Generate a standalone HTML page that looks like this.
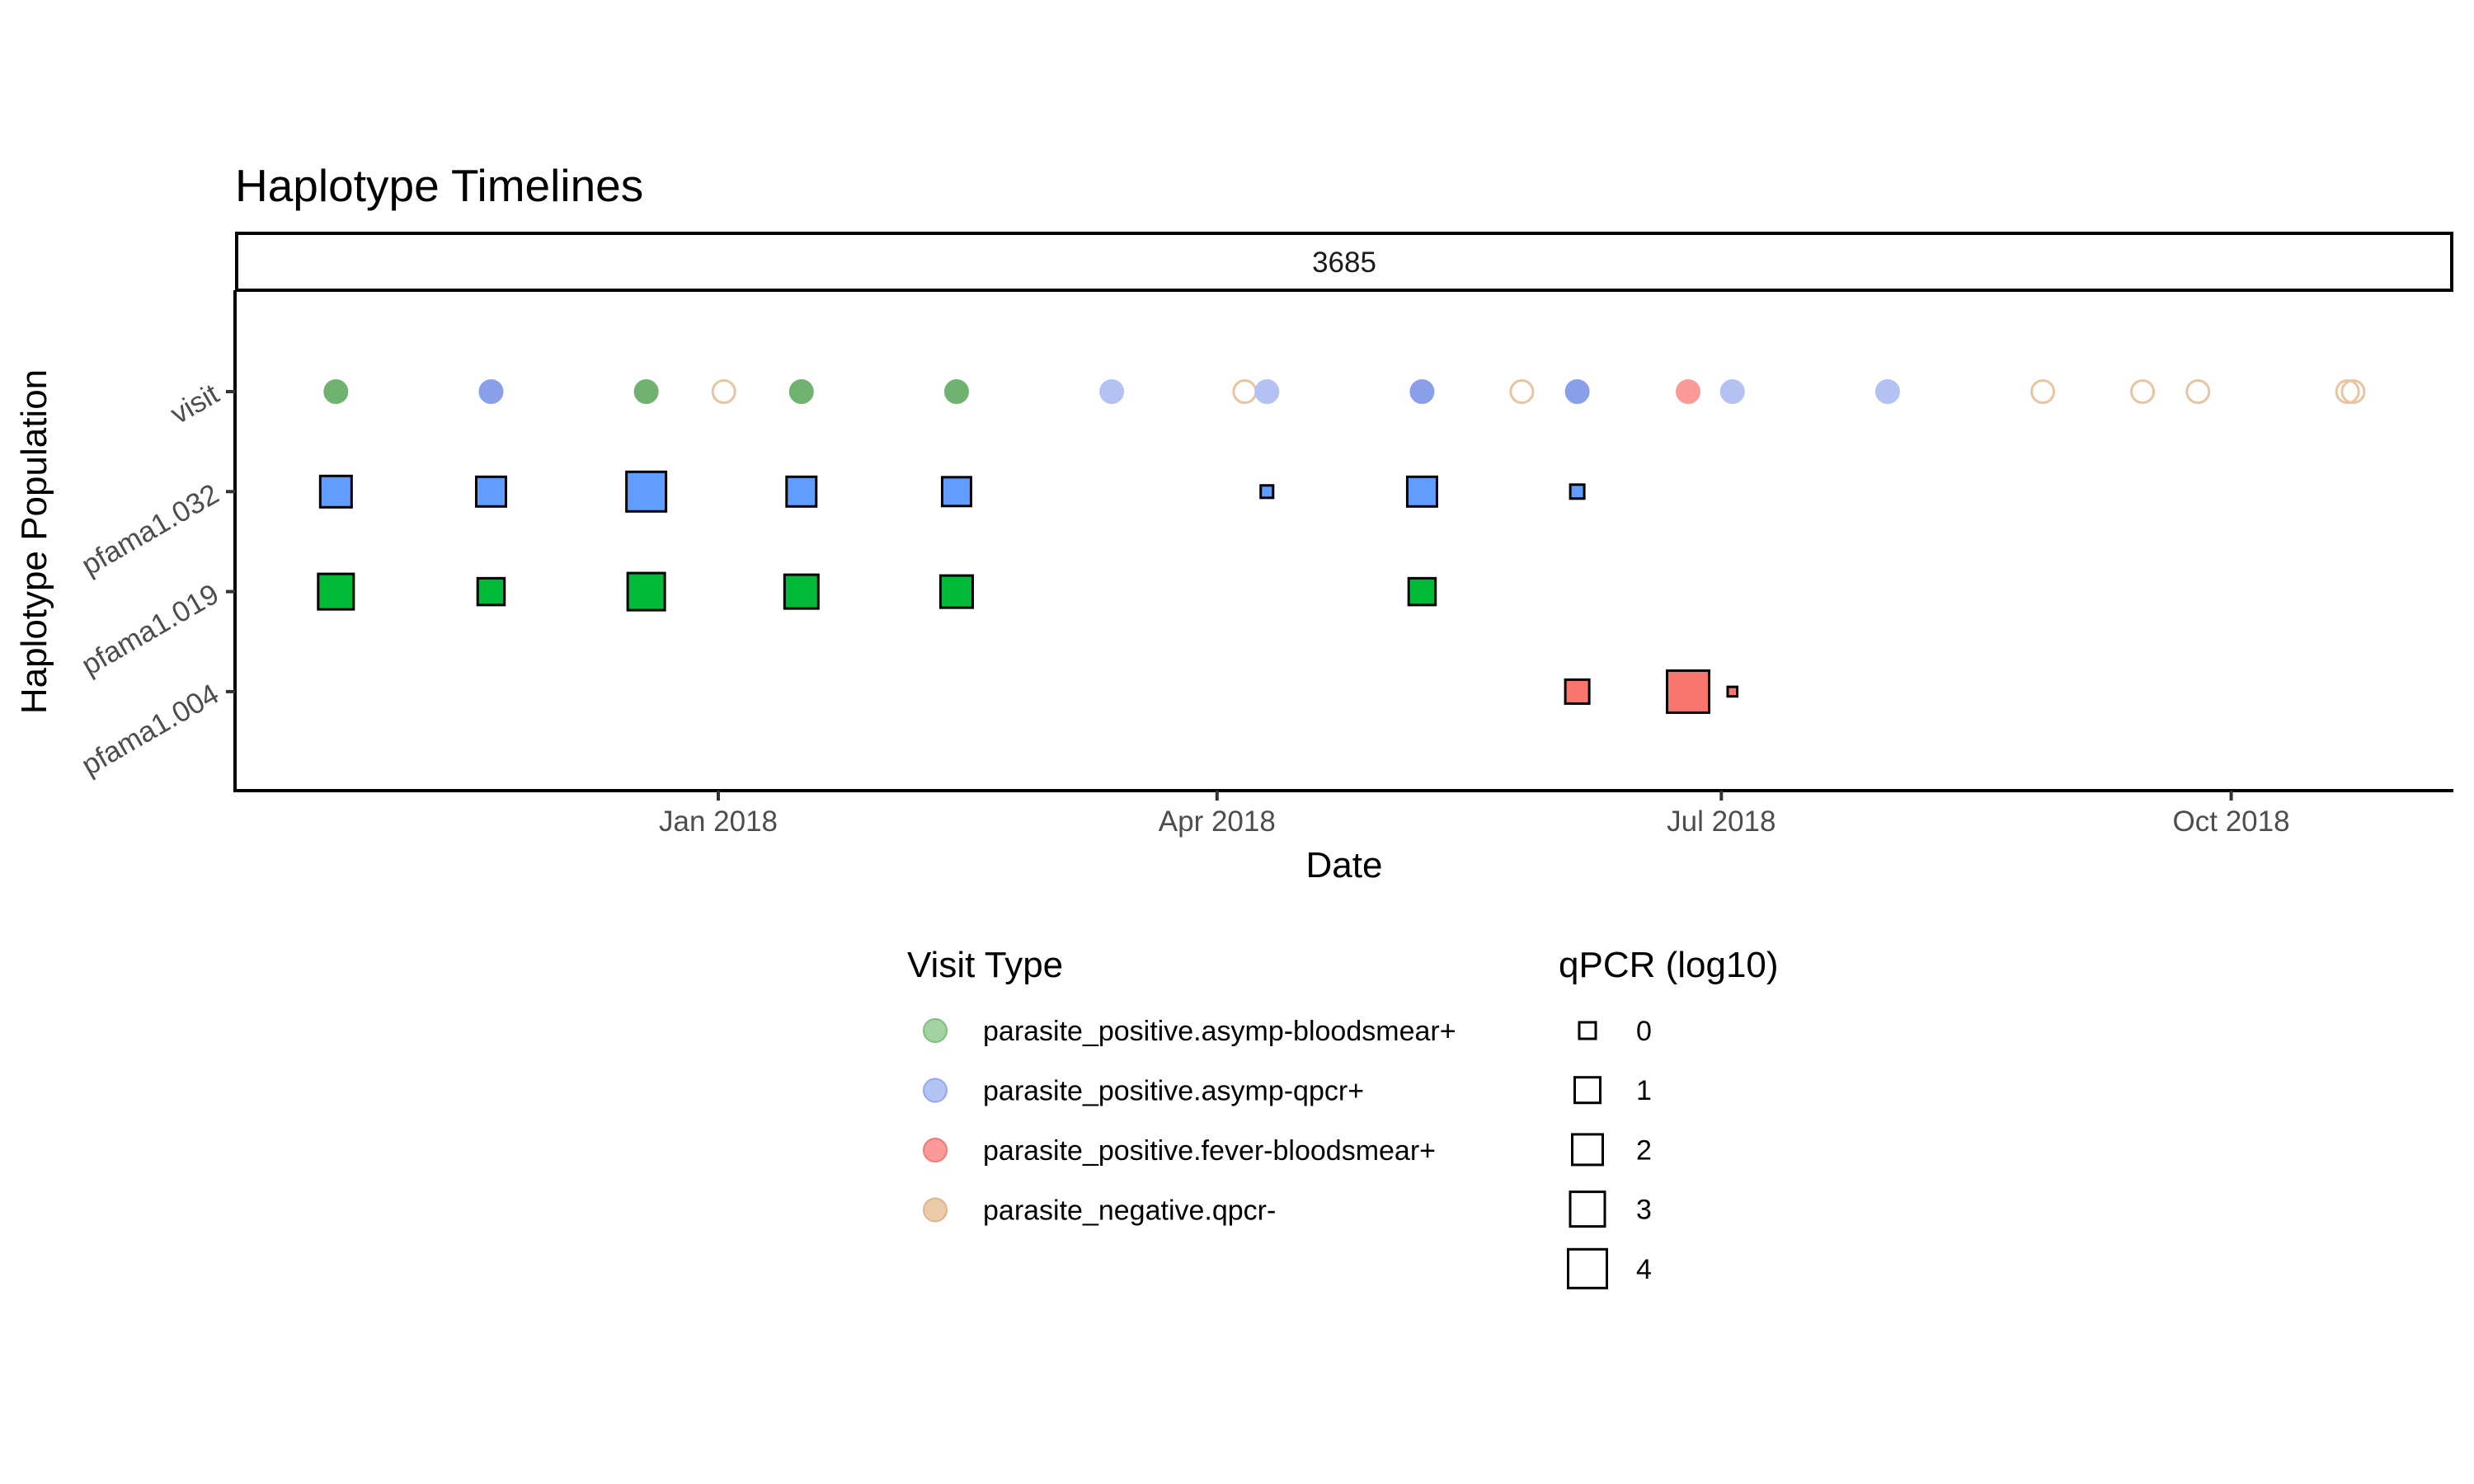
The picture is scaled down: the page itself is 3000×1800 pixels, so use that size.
<!DOCTYPE html>
<html><head><meta charset="utf-8"><style>
html,body{margin:0;padding:0;background:#fff;}
svg{display:block;font-family:"Liberation Sans",sans-serif;}
</style></head><body>
<svg id="chart" width="3000" height="1800" viewBox="0 0 3000 1800" xmlns="http://www.w3.org/2000/svg">
<text x="285" y="244" font-size="55" fill="#000">Haplotype Timelines</text>
<rect x="287" y="283" width="2686" height="69" fill="#fff" stroke="#000" stroke-width="4"/>
<text x="1630" y="330" font-size="35" text-anchor="middle" fill="#1a1a1a">3685</text>
<g id="marks"></g>
<line x1="285" y1="352" x2="285" y2="961" stroke="#000" stroke-width="4"/>
<line x1="283" y1="959" x2="2975" y2="959" stroke="#000" stroke-width="4"/>
<g id="yaxis"></g>
<g id="xaxis"></g>
<text x="1630" y="1064" font-size="44" text-anchor="middle" fill="#000">Date</text>
<text transform="translate(56,657) rotate(-90)" font-size="44" text-anchor="middle" fill="#000">Haplotype Population</text>
<g>
<text x="1100" y="1185" font-size="44" fill="#000">Visit Type</text>
<g id="legend1"></g>
</g>
<g>
<text x="1890" y="1185" font-size="44" fill="#000">qPCR (log10)</text>
<g id="legend2"></g>
</g>
</svg>
<script>
const rows = ["visit","pfama1.032","pfama1.019","pfama1.004"];
const xTickLabels = ["Jan 2018","Apr 2018","Jul 2018","Oct 2018"];
const xTickDates = ["2018-01-01","2018-04-01","2018-07-01","2018-10-01"];
const visitDates = ["2017-10-24","2017-11-21","2017-12-19","2018-01-02","2018-01-16","2018-02-13","2018-03-13","2018-04-06","2018-04-10","2018-05-08","2018-05-26","2018-06-05","2018-06-25","2018-07-03","2018-07-31","2018-08-28","2018-09-15","2018-09-25","2018-10-22","2018-10-23"];
const visitTypes = ["g","bd","g","n","g","g","b","n","b","bd","n","bd","r","b","b","n","n","n","n","n"];
const h032Dates = ["2017-10-24","2017-11-21","2017-12-19","2018-01-16","2018-02-13","2018-04-10","2018-05-08","2018-06-05"];
const h032Qpcr = [1.87,1.5,3.99,1.5,1.32,-1.14,1.5,-0.99];
const h019Dates = ["2017-10-24","2017-11-21","2017-12-19","2018-01-16","2018-02-13","2018-05-08"];
const h019Qpcr = [2.87,0.91,3.3,2.45,2.06,0.91];
const h004Dates = ["2018-06-05","2018-06-25","2018-07-03"];
const h004Qpcr = [0.38,4.72,-1.37];
const legendTypes = ["parasite_positive.asymp-bloodsmear+","parasite_positive.asymp-qpcr+","parasite_positive.fever-bloodsmear+","parasite_negative.qpcr-"];
const sizeBreaks = [0,1,2,3,4];

const NS="http://www.w3.org/2000/svg";
const day0=Date.UTC(2018,0,1);
function xScale(d){const p=d.split("-");const t=Date.UTC(+p[0],+p[1]-1,+p[2]);return 871+(t-day0)/86400000*6.72;}
function yScale(r){return 475+rows.indexOf(r)*121.3;}
function side(v){return Math.sqrt(Math.max(405*(v+1.7),60));}
function mk(tag,attrs,parent){const e=document.createElementNS(NS,tag);for(const k in attrs)e.setAttribute(k,attrs[k]);parent.appendChild(e);return e;}
const colors={g:{fill:"#6fb26f",stroke:"#6fb26f"},bd:{fill:"#8a9fea",stroke:"#8a9fea"},b:{fill:"#b3c2f3",stroke:"#b3c2f3"},r:{fill:"#fc9a9a",stroke:"#fc9a9a"},n:{fill:"none",stroke:"#e8c4a0"}};

const marks=document.getElementById("marks");
visitDates.forEach((d,i)=>{
  const c=colors[visitTypes[i]];
  const e=mk("circle",{cx:xScale(d),cy:yScale("visit"),r:visitTypes[i]==="n"?13.5:14.5,fill:c.fill,stroke:c.stroke,"stroke-width":visitTypes[i]==="n"?3:1},marks);
  
  
});
function squares(dates,vals,row,fill){
  dates.forEach((d,i)=>{
    const s=side(vals[i]);
    const e=mk("rect",{x:xScale(d)-s/2,y:yScale(row)-s/2,width:s,height:s,fill:fill,stroke:"#000","stroke-width":3},marks);
    
    
  });
}
squares(h032Dates,h032Qpcr,"pfama1.032","#619CFF");
squares(h019Dates,h019Qpcr,"pfama1.019","#00BA38");
squares(h004Dates,h004Qpcr,"pfama1.004","#F8766D");

const ya=document.getElementById("yaxis");
rows.forEach(r=>{
  const y=yScale(r);
  const t=mk("line",{x1:274,y1:y,x2:285,y2:y,stroke:"#333","stroke-width":4},ya);
  
  
  const l=mk("text",{transform:`translate(268,${y+10}) rotate(-30)`,"font-size":35,"text-anchor":"end",fill:"#4d4d4d"},ya);
  l.textContent=r;
  
  
});
const xa=document.getElementById("xaxis");
xTickDates.forEach((d,i)=>{
  const x=xScale(d);
  const t=mk("line",{x1:x,y1:959,x2:x,y2:971,stroke:"#333","stroke-width":4},xa);
  
  
  const l=mk("text",{x:x,y:1008,"font-size":35,"text-anchor":"middle",fill:"#4d4d4d"},xa);
  l.textContent=xTickLabels[i];
  
  
});
const lg1=document.getElementById("legend1");
const lcol=[["#a3d3a3","#7dbf7d"],["#b3c3f3","#93a8ef"],["#fc9a9a","#f87575"],["#ebcaa8","#deb48a"]];
legendTypes.forEach((t,i)=>{
  const y=1250+i*72.5;
  const c=mk("circle",{cx:1134,cy:y,r:14,fill:lcol[i][0],stroke:lcol[i][1],"stroke-width":2},lg1);
  
  
  const l=mk("text",{x:1192,y:y+12,"font-size":34,fill:"#000"},lg1);
  l.textContent=t;
  
  
});
const lg2=document.getElementById("legend2");
const legSides=[20,31,37,42,47];
sizeBreaks.forEach((v,i)=>{
  const y=1250+i*72.2;
  const s=legSides[i];
  const r=mk("rect",{x:1925-s/2,y:y-s/2,width:s,height:s,fill:"none",stroke:"#000","stroke-width":3},lg2);
  
  
  const l=mk("text",{x:1984,y:y+12,"font-size":34,fill:"#000"},lg2);
  l.textContent=v;
  
  
});
</script>
</body></html>
